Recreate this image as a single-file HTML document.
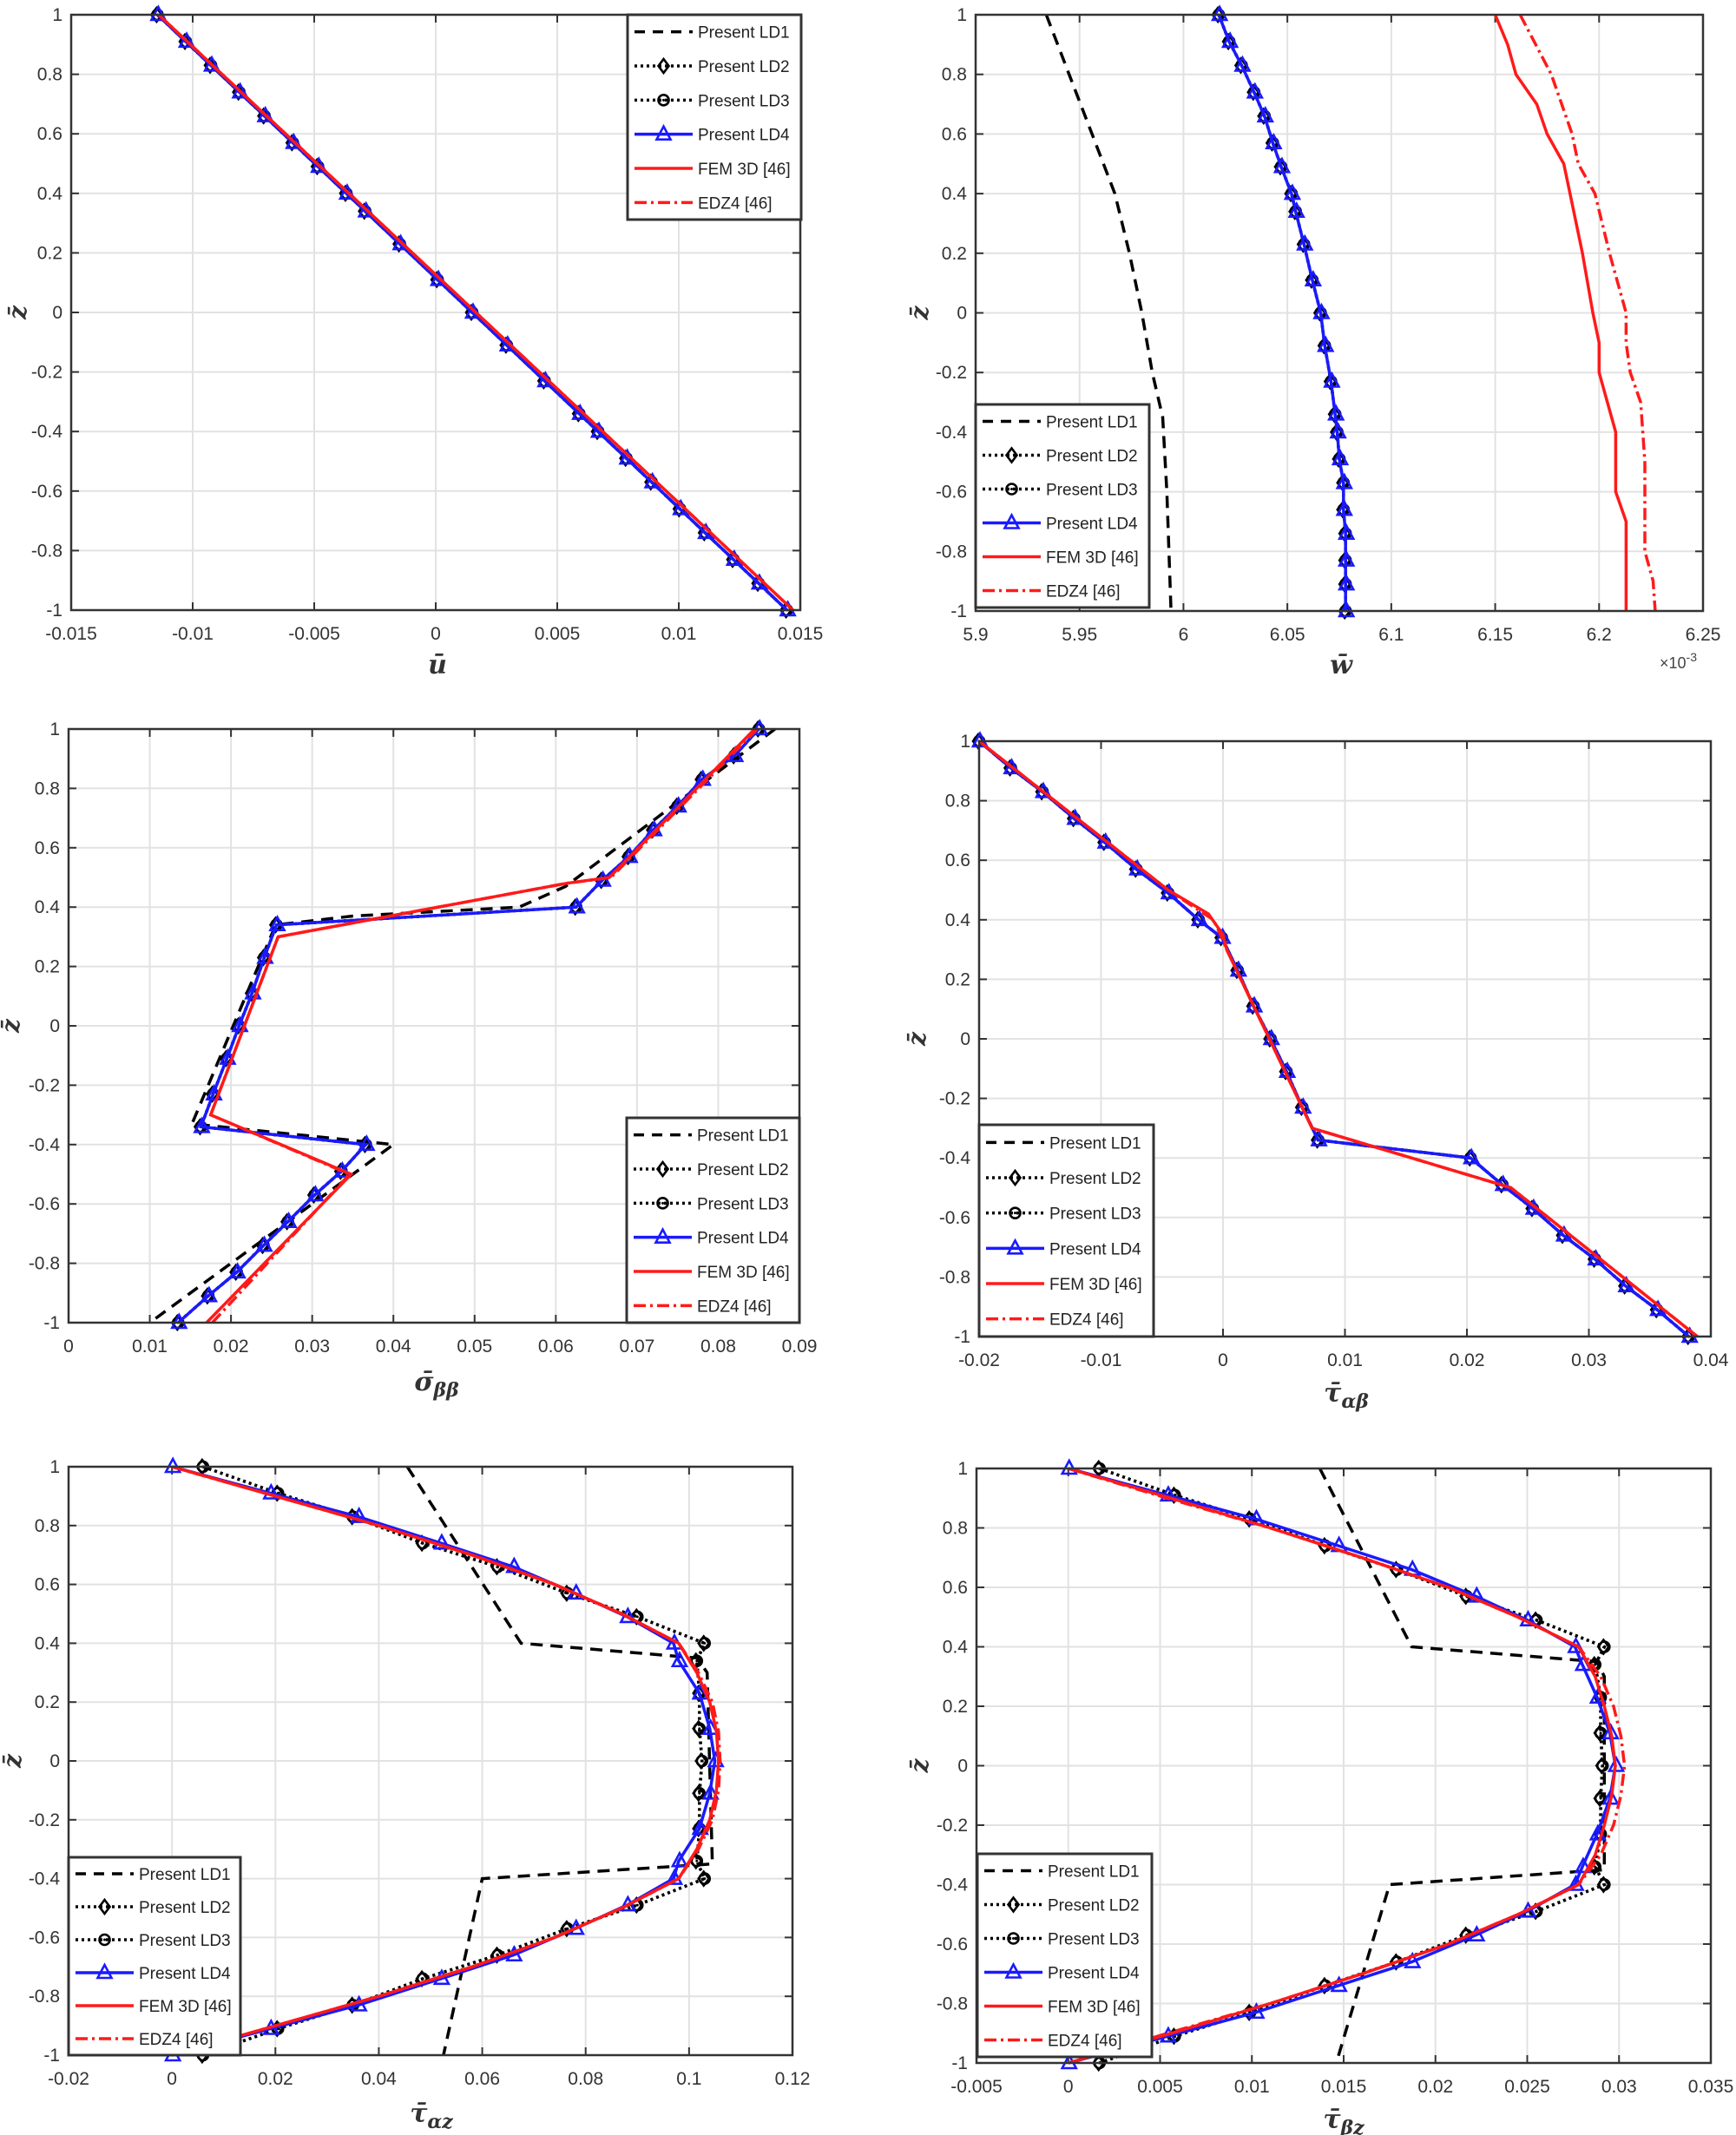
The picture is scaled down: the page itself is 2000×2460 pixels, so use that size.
<!DOCTYPE html>
<html><head><meta charset="utf-8">
<style>
html,body{margin:0;padding:0;background:#fff;}
svg{display:block;}
text{font-family:"Liberation Sans",sans-serif;}
</style></head>
<body>
<svg id="s" xmlns="http://www.w3.org/2000/svg" width="2000" height="2460" viewBox="0 0 2000 2460"></svg>
<script>
const S=document.getElementById('s');
let out=[];
const Z=[1,0.91,0.83,0.74,0.66,0.57,0.49,0.4,0.34,0.23,0.11,0,-0.11,-0.23,-0.34,-0.4,-0.49,-0.57,-0.66,-0.74,-0.83,-0.91,-1];
function zip(xs){return xs.map((x,i)=>[Z[i],x]);}
function sym(h){const a=h.slice(); for(let i=10;i>=0;i--) a.push(h[i]); return a;}
function sym2(a){const r=a.slice();for(let i=a.length-2;i>=0;i--)r.push([-a[i][0],a[i][1]]);return r;}
const plots=[
{L:82,R:922,T:17,B:703,xmin:-0.015,xmax:0.015,ticks:["-0.015","-0.01","-0.005","0","0.005","0.01","0.015"],
 zl:22,xl:"u\u0304",sub:"",xlx:504,xly:776,
 ld1:Z.map(z=>[z,0.0015-0.01295*z]),
 ld:zip(Z.map(z=>0.0015-0.01295*z)),
 fem:[[1,-0.0114],[-1,0.0147]],edz:[[1,-0.0114],[-1,0.0147]],
 leg:[723,17,200,236]},
{L:1124,R:1962,T:17,B:704,xmin:5.9,xmax:6.25,ticks:["5.9","5.95","6","6.05","6.1","6.15","6.2","6.25"],
 zl:1061,xl:"w\u0304",sub:"",xlx:1545,xly:776,exp:true,
 ld1:[[1,5.934],[0.8,5.945],[0.6,5.956],[0.4,5.967],[0.2,5.974],[0,5.98],[-0.2,5.985],[-0.35,5.99],[-0.6,5.992],[-1,5.994]],
 ld:zip([6.017,6.022,6.028,6.034,6.039,6.043,6.047,6.052,6.054,6.058,6.062,6.066,6.068,6.071,6.073,6.074,6.075,6.077,6.077,6.078,6.078,6.078,6.078]),
 fem:[[1,6.15],[0.9,6.156],[0.8,6.16],[0.7,6.17],[0.6,6.175],[0.5,6.183],[0.4,6.186],[0.2,6.192],[0,6.197],[-0.1,6.2],[-0.2,6.2],[-0.4,6.208],[-0.6,6.208],[-0.7,6.213],[-1,6.213]],
 edz:[[1,6.162],[0.8,6.177],[0.6,6.187],[0.5,6.19],[0.4,6.198],[0.2,6.205],[0,6.213],[-0.1,6.213],[-0.2,6.215],[-0.3,6.22],[-0.5,6.222],[-0.8,6.222],[-0.9,6.226],[-1,6.227]],
 leg:[1124,466,200,234]},
{L:79,R:921,T:840,B:1524,xmin:0,xmax:0.09,ticks:["0","0.01","0.02","0.03","0.04","0.05","0.06","0.07","0.08","0.09"],
 zl:14,xl:"\u03c3\u0304",sub:"\u03b2\u03b2",xlx:503,xly:1602,
 ld1:[[1,0.087],[0.47,0.0612],[0.4,0.0555],[0.37,0.035],[0.34,0.0255],[-0.33,0.0152],[-0.4,0.0400],[-1,0.0100]],
 ld:zip([0.085,0.082,0.078,0.075,0.072,0.069,0.0657,0.0625,0.0256,0.0241,0.0226,0.021,0.0195,0.0178,0.0163,0.0366,0.0336,0.0303,0.027,0.024,0.0207,0.0172,0.0135]),
 fem:[[1,0.0845],[0.5,0.0666],[0.48,0.0613],[0.3,0.0258],[-0.3,0.0175],[-0.5,0.0348],[-1,0.0170]],
 edz:[[1,0.0848],[0.5,0.0668],[0.48,0.0613],[0.3,0.0258],[-0.3,0.0175],[-0.5,0.0346],[-1,0.0177]],
 leg:[722,1288,199,236]},
{L:1128,R:1971,T:854,B:1540,xmin:-0.02,xmax:0.04,ticks:["-0.02","-0.01","0","0.01","0.02","0.03","0.04"],
 zl:1058,xl:"\u03c4\u0304",sub:"\u03b1\u03b2",xlx:1551,xly:1615,
 ld1:null,
 ld:zip([-0.02,-0.0174,-0.0148,-0.0122,-0.0097,-0.0071,-0.0045,-0.002,-0.0001,0.0012,0.0025,0.0039,0.0052,0.0065,0.0078,0.0203,0.0229,0.0254,0.0279,0.0305,0.033,0.0356,0.0382]),
 fem:[[1,-0.02],[0.5,-0.0045],[0.42,-0.0012],[0.35,0.0],[0.3,0.0003],[-0.3,0.0073],[-0.5,0.0236],[-1,0.0389]],
 edz:[[1,-0.02],[0.5,-0.0045],[0.4,-0.0008],[0.35,-0.0002],[0.3,0.0003],[-0.3,0.0073],[-0.5,0.0236],[-1,0.0389]],
 leg:[1128,1296,201,244]},
{L:79,R:913,T:1690,B:2368,xmin:-0.02,xmax:0.12,ticks:["-0.02","0","0.02","0.04","0.06","0.08","0.1","0.12"],
 zl:16,xl:"\u03c4\u0304",sub:"\u03b1z",xlx:497,xly:2445,
 ld1:[[1,0.0455],[0.4,0.0675],[0.35,0.1015],[0.3,0.1035],[-0.35,0.1045],[-0.4,0.06],[-1,0.0525]],
 ld2:zip(sym([0.006,0.0205,0.035,0.0485,0.063,0.0765,0.09,0.103,0.1015,0.102,0.102,0.1025])),
 ld:zip(sym([0,0.019,0.036,0.052,0.066,0.078,0.088,0.097,0.098,0.102,0.104,0.105])),
 fem:sym2([[1,0],[0.9,0.02],[0.8,0.04],[0.7,0.058],[0.6,0.074],[0.5,0.087],[0.4,0.098],[0.3,0.1015],[0.2,0.104],[0.1,0.1053],[0,0.1057]]),
 edz:sym2([[1,0],[0.9,0.02],[0.8,0.04],[0.7,0.058],[0.6,0.074],[0.5,0.087],[0.4,0.098],[0.3,0.1018],[0.2,0.1045],[0.1,0.1057],[0,0.106]]),
 leg:[79,2140,198,228]},
{L:1125,R:1971,T:1692,B:2377,xmin:-0.005,xmax:0.035,ticks:["-0.005","0","0.005","0.01","0.015","0.02","0.025","0.03","0.035"],
 zl:1061,xl:"\u03c4\u0304",sub:"\u03b2z",xlx:1548,xly:2452,
 ld1:[[1,0.0137],[0.4,0.0187],[0.35,0.0288],[0.3,0.0292],[-0.35,0.0292],[-0.4,0.0175],[-1,0.0146]],
 ld2:zip(sym([0.0017,0.0058,0.0099,0.014,0.0179,0.0217,0.0255,0.0292,0.0287,0.029,0.029,0.0291])),
 ld:zip(sym([0,0.0054,0.0102,0.0147,0.0187,0.0222,0.025,0.0276,0.028,0.0288,0.0295,0.0298])),
 fem:sym2([[1,0],[0.9,0.0056],[0.8,0.011],[0.7,0.016],[0.6,0.0207],[0.5,0.0245],[0.4,0.0278],[0.3,0.0287],[0.2,0.0292],[0.1,0.0296],[0,0.0298]]),
 edz:sym2([[1,0],[0.9,0.0054],[0.8,0.011],[0.7,0.016],[0.6,0.0207],[0.5,0.0245],[0.4,0.0278],[0.3,0.029],[0.2,0.0297],[0.1,0.0301],[0,0.0303]]),
 leg:[1126,2136,201,234]}
];
function path(p,pts,st){
  const X=v=>p.L+(v-p.xmin)/(p.xmax-p.xmin)*(p.R-p.L), Y=z=>p.T+(1-z)/2*(p.B-p.T);
  const d=pts.map((q,i)=>(i?'L':'M')+X(q[1]).toFixed(1)+' '+Y(q[0]).toFixed(1)).join(' ');
  out.push(`<path d="${d}" fill="none" ${st}/>`);
}
function marks(p,pts,type,off){
  const X=v=>p.L+(v-p.xmin)/(p.xmax-p.xmin)*(p.R-p.L), Y=z=>p.T+(1-z)/2*(p.B-p.T);
  pts.forEach(q=>{mark(X(q[1])+(off||0),Y(q[0]),type);});
}
function mark(x,y,type){
  if(type=='d') out.push(`<path d="M${x} ${y-8}L${x+6} ${y}L${x} ${y+8}L${x-6} ${y}Z" fill="none" stroke="#000" stroke-width="2.6"/>`);
  else if(type=='o') out.push(`<circle cx="${x}" cy="${y}" r="6" fill="none" stroke="#000" stroke-width="2.6"/><circle cx="${x}" cy="${y}" r="1.5" fill="#000"/>`);
  else if(type=='t') out.push(`<path d="M${x} ${y-9}L${x+8} ${y+6}L${x-8} ${y+6}Z" fill="none" stroke="#1a1aff" stroke-width="2.6"/>`);
}
const ST={
 ld1:'stroke="#000" stroke-width="3.5" stroke-dasharray="14 9"',
 dot:'stroke="#000" stroke-width="3.5" stroke-dasharray="3 4"',
 ld4:'stroke="#1a1aff" stroke-width="3.5"',
 fem:'stroke="#ff1a1a" stroke-width="3.5"',
 edz:'stroke="#ff1a1a" stroke-width="3.5" stroke-dasharray="14 5 3 5"'
};
plots.forEach(p=>{
  const W=p.R-p.L,H=p.B-p.T;
  const n=p.ticks.length-1;
  for(let i=0;i<=n;i++){const x=p.L+W*i/n;
    out.push(`<line x1="${x}" y1="${p.T}" x2="${x}" y2="${p.B}" stroke="#e2e2e2" stroke-width="2"/>`);
    out.push(`<line x1="${x}" y1="${p.B}" x2="${x}" y2="${p.B-9}" stroke="#333" stroke-width="2"/><line x1="${x}" y1="${p.T}" x2="${x}" y2="${p.T+9}" stroke="#333" stroke-width="2"/>`);
    out.push(`<text x="${x}" y="${p.B+34}" font-size="21" fill="#333" text-anchor="middle">${p.ticks[i]}</text>`);}
  for(let j=0;j<=10;j++){const y=p.T+H*j/10; const v=(1-j*0.2);
    const lab=Math.abs(v)<1e-9?"0":(Math.round(v*10)/10).toString();
    out.push(`<line x1="${p.L}" y1="${y}" x2="${p.R}" y2="${y}" stroke="#e2e2e2" stroke-width="2"/>`);
    out.push(`<line x1="${p.L}" y1="${y}" x2="${p.L+9}" y2="${y}" stroke="#333" stroke-width="2"/><line x1="${p.R}" y1="${y}" x2="${p.R-9}" y2="${y}" stroke="#333" stroke-width="2"/>`);
    out.push(`<text x="${p.L-10}" y="${y+7}" font-size="21" fill="#333" text-anchor="end">${lab}</text>`);}
  if(p.ld1) path(p,p.ld1,ST.ld1); else path(p,p.ld,ST.ld1);
  const l2=p.ld2||p.ld;
  path(p,l2,ST.dot); marks(p,l2,'d',-1);
  path(p,l2,ST.dot); marks(p,l2,'o',0);
  path(p,p.ld,ST.ld4); marks(p,p.ld,'t',1);
  path(p,p.fem,ST.fem); path(p,p.edz,ST.edz);
  out.push(`<rect x="${p.L}" y="${p.T}" width="${W}" height="${H}" fill="none" stroke="#333" stroke-width="2.5"/>`);
  const [lx,ly,lw,lh]=p.leg;
  out.push(`<rect x="${lx}" y="${ly}" width="${lw}" height="${lh}" fill="#fff" stroke="#333" stroke-width="3"/>`);
  const names=["Present LD1","Present LD2","Present LD3","Present LD4","FEM 3D [46]","EDZ4 [46]"];
  const sts=[ST.ld1,ST.dot,ST.dot,ST.ld4,ST.fem,ST.edz];
  const mk=[null,'d','o','t',null,null];
  for(let i=0;i<6;i++){const y=ly+lh*(i+0.5)/6; const x0=lx+8,x1=lx+75;
    out.push(`<line x1="${x0}" y1="${y}" x2="${x1}" y2="${y}" ${i==0?'stroke="#000" stroke-width="3.5" stroke-dasharray="12 9"':sts[i]}/>`);
    if(mk[i]) mark((x0+x1)/2,y,mk[i]);
    out.push(`<text x="${lx+81}" y="${y+7}" font-size="19" fill="#222">${names[i]}</text>`);}
  const my=(p.T+p.B)/2;
  out.push(`<text transform="translate(${p.zl+8},${my}) rotate(-90)" font-style="italic" font-weight="bold" font-size="28" fill="#333" text-anchor="middle" style="font-family:'DejaVu Serif',serif">z\u0304</text>`);
  out.push(`<text x="${p.xlx}" y="${p.xly}" font-size="30" font-style="italic" font-weight="bold" fill="#333" text-anchor="middle" style="font-family:'DejaVu Serif',serif">${p.xl}<tspan font-size="22" dy="7">${p.sub}</tspan></text>`);
  if(p.exp) out.push(`<text x="${p.R-50}" y="${p.xly-6}" font-size="18" fill="#444">\u00d710<tspan font-size="14" dy="-8">-3</tspan></text>`);
});
S.innerHTML=out.join('');
</script>
</body></html>
